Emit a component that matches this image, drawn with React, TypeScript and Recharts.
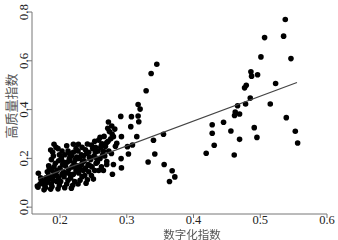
import React from "react";
import { ScatterChart, Scatter, XAxis, YAxis } from "recharts";

// dense group, digital index 0.16 - 0.29
const clusterPoints: [number, number][] = [
  [0.1675, 0.139], [0.166, 0.087], [0.167, 0.082], [0.17, 0.095], [0.172, 0.11], [0.171, 0.12],
  [0.176, 0.071], [0.178, 0.08], [0.177, 0.09], [0.18, 0.1], [0.182, 0.105], [0.179, 0.12],
  [0.183, 0.13], [0.181, 0.145], [0.184, 0.16], [0.183, 0.17], [0.186, 0.074], [0.188, 0.085],
  [0.187, 0.095], [0.19, 0.11], [0.189, 0.125], [0.192, 0.14], [0.188, 0.15], [0.191, 0.165],
  [0.193, 0.18], [0.187, 0.195], [0.19, 0.21], [0.189, 0.225], [0.186, 0.234], [0.191, 0.258],
  [0.194, 0.245], [0.197, 0.075], [0.199, 0.09], [0.201, 0.105], [0.198, 0.12], [0.203, 0.135],
  [0.196, 0.15], [0.2, 0.16], [0.204, 0.175], [0.198, 0.19], [0.202, 0.2], [0.199, 0.215],
  [0.203, 0.23], [0.197, 0.24], [0.207, 0.08], [0.21, 0.095], [0.212, 0.11], [0.206, 0.125],
  [0.209, 0.14], [0.213, 0.155], [0.208, 0.17], [0.211, 0.185], [0.214, 0.2], [0.207, 0.215],
  [0.212, 0.23], [0.21, 0.252], [0.214, 0.22], [0.217, 0.078], [0.219, 0.09], [0.222, 0.105],
  [0.216, 0.12], [0.22, 0.135], [0.224, 0.15], [0.218, 0.165], [0.221, 0.18], [0.223, 0.195],
  [0.217, 0.21], [0.22, 0.225], [0.224, 0.24], [0.22, 0.258], [0.227, 0.095], [0.23, 0.11],
  [0.233, 0.125], [0.228, 0.14], [0.231, 0.155], [0.226, 0.17], [0.234, 0.185], [0.229, 0.2],
  [0.232, 0.215], [0.227, 0.23], [0.233, 0.245], [0.2275, 0.258], [0.239, 0.098], [0.241, 0.112],
  [0.237, 0.13], [0.243, 0.145], [0.238, 0.16], [0.242, 0.175], [0.236, 0.19], [0.244, 0.205],
  [0.24, 0.22], [0.238, 0.235], [0.241, 0.259], [0.245, 0.2], [0.25, 0.115], [0.247, 0.13],
  [0.252, 0.15], [0.248, 0.165], [0.254, 0.18], [0.246, 0.195], [0.251, 0.21], [0.253, 0.225],
  [0.249, 0.24], [0.247, 0.255], [0.252, 0.27], [0.258, 0.15], [0.262, 0.165], [0.256, 0.185],
  [0.26, 0.2], [0.264, 0.215], [0.257, 0.23], [0.261, 0.245], [0.263, 0.26], [0.258, 0.275],
  [0.26, 0.286], [0.265, 0.15], [0.27, 0.175], [0.27, 0.187], [0.267, 0.21], [0.273, 0.23],
  [0.268, 0.25], [0.272, 0.27], [0.266, 0.29], [0.274, 0.31], [0.2715, 0.323], [0.2725, 0.349],
  [0.2785, 0.135], [0.28, 0.175], [0.277, 0.22], [0.283, 0.25], [0.285, 0.262], [0.28, 0.289],
  [0.278, 0.3], [0.2775, 0.333], [0.282, 0.32], [0.195, 0.13], [0.205, 0.145], [0.215, 0.135],
  [0.225, 0.16], [0.235, 0.15], [0.245, 0.17], [0.255, 0.2], [0.265, 0.23], [0.205, 0.185],
  [0.215, 0.19], [0.225, 0.205], [0.235, 0.21], [0.195, 0.105], [0.185, 0.118], [0.175, 0.105],
  [0.232, 0.175], [0.243, 0.225], [0.253, 0.245], [0.262, 0.255], [0.27, 0.265], [0.276, 0.28],
];

// scattered points around 0.29 - 0.37
const midPoints: [number, number][] = [
  [0.345, 0.586], [0.3365, 0.548], [0.329, 0.477], [0.317, 0.421], [0.32, 0.402], [0.317, 0.374],
  [0.318, 0.35], [0.307, 0.371], [0.306, 0.33], [0.291, 0.372], [0.355, 0.299], [0.34, 0.274],
  [0.315, 0.289], [0.3085, 0.255], [0.301, 0.248], [0.3025, 0.218], [0.2915, 0.199], [0.292, 0.161],
  [0.332, 0.185], [0.342, 0.218], [0.356, 0.175], [0.368, 0.149], [0.372, 0.124], [0.364, 0.105],
  [0.292, 0.289],
];

// right group, 0.42 - 0.56
const rightPoints: [number, number][] = [
  [0.5375, 0.769], [0.535, 0.701], [0.5065, 0.695], [0.501, 0.616], [0.546, 0.609], [0.486, 0.555],
  [0.487, 0.537], [0.496, 0.543], [0.523, 0.507], [0.479, 0.5], [0.4765, 0.489], [0.485, 0.447],
  [0.478, 0.423], [0.515, 0.423], [0.466, 0.416], [0.4625, 0.39], [0.4615, 0.376], [0.469, 0.382],
  [0.539, 0.367], [0.445, 0.348], [0.428, 0.338], [0.428, 0.303], [0.491, 0.326], [0.456, 0.312],
  [0.5525, 0.311], [0.495, 0.286], [0.469, 0.278], [0.431, 0.254], [0.556, 0.263], [0.419, 0.221],
  [0.461, 0.214],
];

// fitted line end points
const fitLine = [
  { x: 0.1675, y: 0.116 },
  { x: 0.555, y: 0.511 },
];

const xTicks = [0.2, 0.3, 0.4, 0.5, 0.6];
const yTicks = [0, 0.2, 0.4, 0.6, 0.8];

const points = [...clusterPoints, ...midPoints, ...rightPoints].map(([x, y]) => ({ x, y }));

const serif = "'Liberation Serif', 'Times New Roman', serif";

const Dot = (props: any) => <circle cx={props.cx} cy={props.cy} r={2.8} fill="#000" />;

// Stata style: y tick labels are turned on their side
const YTick = (props: any) => {
  const { y, payload } = props;
  const bx = 28;
  return (
    <text
      x={bx}
      y={y}
      transform={`rotate(-90 ${bx} ${y})`}
      textAnchor="middle"
      fontFamily={serif}
      fontSize={13}
      fill="#222"
    >
      {payload.value.toFixed(1)}
    </text>
  );
};

export default function App() {
  return (
    <div style={{ position: "fixed", left: 0, top: 0, width: 338, height: 240, background: "#fff" }}>
      <ScatterChart width={338} height={240} margin={{ top: 12, right: 11, bottom: 0, left: 0 }}>
        <XAxis
          type="number"
          dataKey="x"
          domain={[0.158, 0.6]}
          ticks={xTicks}
          allowDataOverflow
          height={26}
          tickSize={4}
          tickMargin={-3}
          stroke="#777"
          tickFormatter={(v: number) => v.toFixed(1)}
          tick={{ fill: "#222", fontSize: 12.5, fontFamily: serif }}
        />
        <YAxis
          type="number"
          dataKey="y"
          domain={[-0.028, 0.8]}
          ticks={yTicks}
          allowDataOverflow
          width={32}
          tickSize={4}
          tickMargin={2}
          stroke="#777"
          tick={<YTick />}
        />
        <Scatter data={points} shape={<Dot />} isAnimationActive={false} />
        <Scatter
          data={fitLine}
          line={{ stroke: "#444", strokeWidth: 1.2 }}
          shape={() => null}
          isAnimationActive={false}
        />
      </ScatterChart>
      <div
        style={{
          position: "absolute",
          left: 10,
          top: 106,
          transform: "translate(-50%, -50%) rotate(-90deg)",
          whiteSpace: "nowrap",
          fontSize: 13,
          color: "#555",
          fontFamily: "'Noto Sans CJK SC', serif",
          lineHeight: 1,
        }}
      >
        高质量指数
      </div>
      <div
        style={{
          position: "absolute",
          left: 192,
          top: 228.5,
          transform: "translateX(-50%)",
          whiteSpace: "nowrap",
          fontSize: 11.5,
          color: "#555",
          fontFamily: "'Noto Sans CJK SC', serif",
          lineHeight: "10px",
        }}
      >
        数字化指数
      </div>
    </div>
  );
}
